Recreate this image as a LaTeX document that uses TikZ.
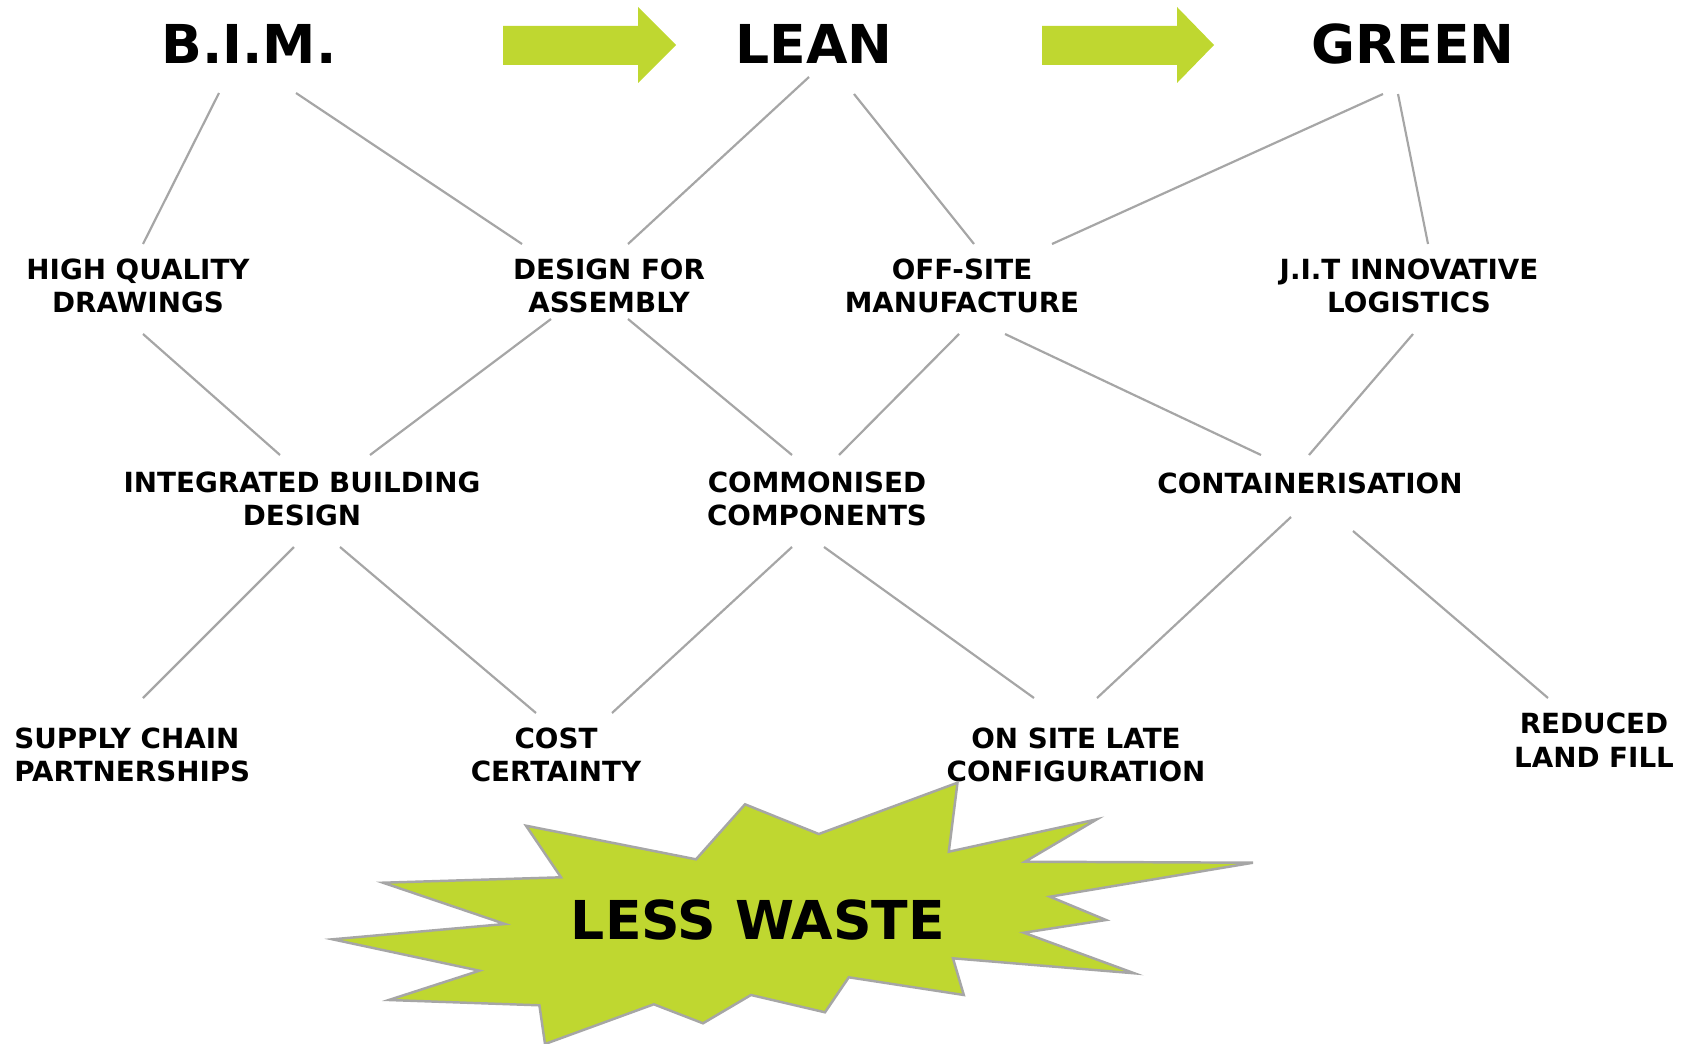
\documentclass[tikz,border=0pt]{standalone}
\usepackage{fontspec}
\setmainfont{DejaVu Sans}
\usetikzlibrary{calc}
\definecolor{lime}{RGB}{191,215,48}
\definecolor{linegray}{RGB}{166,166,166}

\begin{document}
\begin{tikzpicture}[x=0.02cm,y=-0.02cm,
  heading/.style={inner sep=0,font=\bfseries\fontsize{30.5}{36}\selectfont},
  factor/.style={inner sep=0,align=center,font=\bfseries\fontsize{15.8}{19}\selectfont},
  link/.style={draw=linegray,line width=1.25pt},
  flow/.style={fill=lime,draw=none},
  burst/.style={fill=lime,draw=linegray,line width=1.4pt,line join=miter}]
\useasboundingbox (0,0) rectangle (1686,1044);

% top row
\node[heading] (bim) at (249,44) {B.I.M.};
\node[heading] (lean) at (814,44) {LEAN};
\node[heading] (green) at (1413,44) {GREEN};
\fill[flow] (503,26) -- (638,26) -- (638,7) -- (676,45) -- (638,83) -- (638,65) -- (503,65) -- cycle;
\fill[flow] (1042,26) -- (1177,26) -- (1177,7) -- (1214,45) -- (1177,83) -- (1177,65) -- (1042,65) -- cycle;

% second row
\node[factor] (hq) at (138,286) {HIGH QUALITY\\DRAWINGS};
\node[factor] (dfa) at (609,286) {DESIGN FOR\\ASSEMBLY};
\node[factor] (osm) at (962,286) {OFF-SITE\\MANUFACTURE};
\node[factor] (jit) at (1409,286) {J.I.T INNOVATIVE\\LOGISTICS};

% third row
\node[factor] (ibd) at (302,499) {INTEGRATED BUILDING\\DESIGN};
\node[factor] (cc) at (817,499) {COMMONISED\\COMPONENTS};
\node[factor] (cont) at (1310,483) {CONTAINERISATION};

% bottom row
\node[factor,align=left,anchor=west] (scp) at (14,755) {SUPPLY CHAIN\\PARTNERSHIPS};
\node[factor] (cost) at (556,755) {COST\\CERTAINTY};
\node[factor] (oslc) at (1076,755) {ON SITE LATE\\CONFIGURATION};
\node[factor] (rlf) at (1594,740) {REDUCED\\LAND FILL};

\draw[link] ($(bim)+(-30,49)$) -- ($(hq)+(5,-42)$);
\draw[link] ($(bim)+(47,49)$) -- ($(dfa)+(-87,-42)$);
\draw[link] ($(lean)+(-5,33)$) -- ($(dfa)+(19,-42)$);
\draw[link] ($(lean)+(40,50)$) -- ($(osm)+(12,-42)$);
\draw[link] ($(green)+(-30,50)$) -- ($(osm)+(90,-42)$);
\draw[link] ($(green)+(-15,50)$) -- ($(jit)+(19,-42)$);

\draw[link] ($(hq)+(5,48)$) -- ($(ibd)+(-22,-44)$);
\draw[link] ($(dfa)+(-58,33)$) -- ($(ibd)+(68,-44)$);
\draw[link] ($(dfa)+(19,33)$) -- ($(cc)+(-25,-44)$);
\draw[link] ($(osm)+(-3,48)$) -- ($(cc)+(22,-44)$);
\draw[link] ($(osm)+(43,48)$) -- ($(cont)+(-49,-28)$);
\draw[link] ($(jit)+(4,48)$) -- ($(cont)+(-1,-28)$);

\draw[link] ($(ibd)+(-8,48)$) -- ($(scp.west)+(129,-57)$);
\draw[link] ($(ibd)+(38,48)$) -- ($(cost)+(-20,-42)$);
\draw[link] ($(cc)+(-25,48)$) -- ($(cost)+(56,-42)$);
\draw[link] ($(cc)+(7,48)$) -- ($(oslc)+(-42,-57)$);
\draw[link] ($(cont)+(-19,34)$) -- ($(oslc)+(21,-57)$);
\draw[link] ($(cont)+(43,48)$) -- ($(rlf)+(-46,-42)$);

% less waste
\draw[burst] (957.5,782.7) -- (948.8,851.7) -- (1096.9,819.3) -- (1025,861.7) -- (1253,862.7)
  -- (1050,896.7) -- (1106,920) -- (1023.8,932.7) -- (1134.4,973.3) -- (953,958.3)
  -- (963.8,995) -- (848.8,977.3) -- (825,1012.3) -- (751,995) -- (703,1023.3)
  -- (653.8,1004.3) -- (545,1044) -- (539.4,1005.3) -- (388.8,1000) -- (479.4,970.7)
  -- (332.5,939.3) -- (505,924) -- (383,882.7) -- (561,877.3) -- (526,825.7)
  -- (696,859.3) -- (745,804.3) -- (818.8,834) -- cycle;
\node[heading,font=\bfseries\fontsize{30.5}{36}\selectfont] (waste) at (758,920) {LESS WASTE};

\end{tikzpicture}
\end{document}
